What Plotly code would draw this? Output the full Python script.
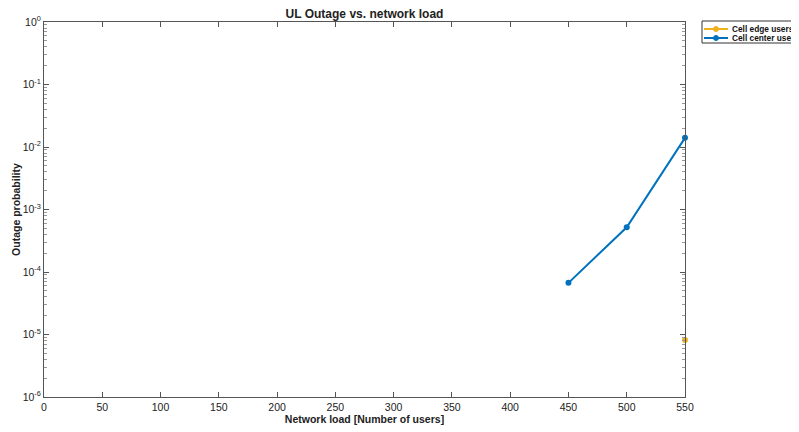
import plotly.graph_objects as go

x_load = [450, 500, 550]
edge_outage = [None, None, 8.2e-6]
center_outage = [6.7e-5, 5.2e-4, 1.4e-2]
series_names = ["Cell edge users", "Cell center users"]
series_colors = ["#EDB120", "#0072BD"]
x_ticks = [0, 50, 100, 150, 200, 250, 300, 350, 400, 450, 500, 550]
y_tickvals = [1e-6, 1e-5, 1e-4, 1e-3, 1e-2, 1e-1, 1]
y_ticktext = ["10<sup>-6</sup>", "10<sup>-5</sup>", "10<sup>-4</sup>", "10<sup>-3</sup>",
              "10<sup>-2</sup>", "10<sup>-1</sup>", "10<sup>0</sup>"]

font = "Liberation Sans, Arial, sans-serif"
W, H = 799, 424
L, R, T, B = 36, 122, 14, 35
PW, PH = W - L - R, H - T - B

fig = go.Figure()
for name, ys, col in zip(series_names, [edge_outage, center_outage], series_colors):
    fig.add_trace(go.Scatter(x=x_load, y=ys, name=name, showlegend=False,
                             mode="lines+markers", line=dict(color=col, width=2),
                             marker=dict(size=6), cliponaxis=False))

def px_x(p):
    return (p - L) / PW

def px_y(p):
    return 1 - (p - T) / PH

# legend (drawn in figure pixels -> paper coords)
fig.add_shape(type="rect", xref="paper", yref="paper", x0=px_x(694), x1=px_x(W + 5),
              y0=px_y(35), y1=px_y(13), line=dict(color="#333333", width=1), fillcolor="white")
for i, (name, col) in enumerate(zip(series_names, series_colors)):
    yy = 21 + 9 * i
    fig.add_shape(type="line", xref="paper", yref="paper", x0=px_x(696), x1=px_x(720),
                  y0=px_y(yy), y1=px_y(yy), line=dict(color=col, width=2))
    fig.add_shape(type="circle", xref="paper", yref="paper", x0=px_x(705.5), x1=px_x(710.5),
                  y0=px_y(yy + 2.5), y1=px_y(yy - 2.5), line=dict(color=col, width=1), fillcolor=col)
    fig.add_annotation(text="<b>" + name + "</b>", xref="paper", yref="paper", x=px_x(722),
                       y=px_y(yy), xanchor="left", yanchor="middle", showarrow=False,
                       font=dict(size=8.3, color="#111111", family=font))

axcol = "#555555"
fig.update_layout(
    width=W, height=H,
    margin=dict(l=L, r=R, t=T, b=B, autoexpand=False),
    paper_bgcolor="white", plot_bgcolor="white",
    font=dict(family=font, size=10, color="#222222"),
    title=dict(text="<b>UL Outage vs. network load</b>", x=(L + PW / 2) / W, xanchor="center",
               y=1 - 6 / H, yanchor="middle", font=dict(size=12, color="#222222")),
    showlegend=False,
)
fig.update_xaxes(range=[0, 550], tickvals=x_ticks, ticks="inside", ticklen=5, automargin=False,
                 showline=True, linecolor=axcol, mirror="ticks", showgrid=False,
                 zeroline=False, tickcolor=axcol,
                 tickfont=dict(size=10.5, family=font),
                 title=dict(text="<b>Network load [Number of users]</b>", font=dict(size=10.5), standoff=1))
fig.update_yaxes(type="log", range=[-6, 0], tickvals=y_tickvals, ticktext=y_ticktext, automargin=False,
                 ticks="inside", ticklen=5, showline=True, linecolor=axcol, mirror="ticks",
                 showgrid=False, zeroline=False, tickcolor=axcol,
                 tickfont=dict(size=10.5, family=font),
                 minor=dict(ticks="inside", ticklen=3, tickcolor="#999999", dtick="D1", showgrid=False),
                 title=dict(text="<b>Outage probability</b>", font=dict(size=10.5), standoff=0))
fig.write_html("out.html")
